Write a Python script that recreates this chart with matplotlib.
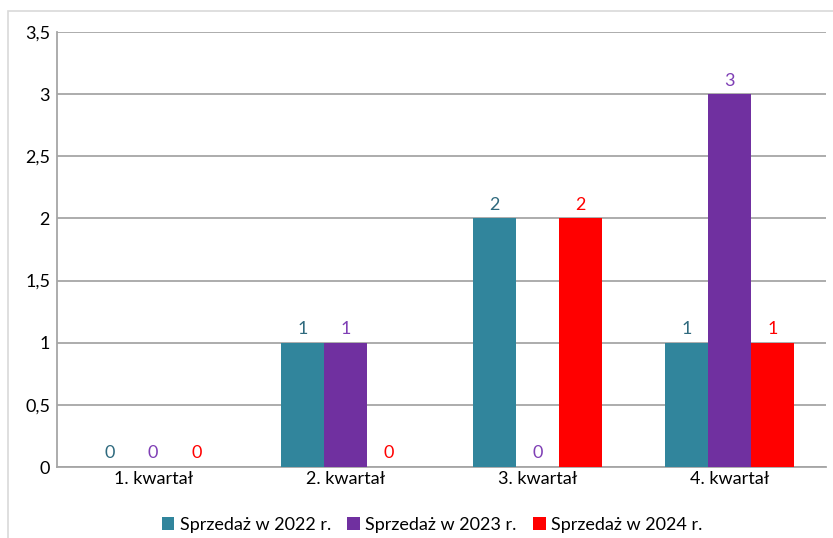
import matplotlib
matplotlib.use("Agg")
import matplotlib.pyplot as plt
import numpy as np
from matplotlib.patches import Rectangle

categories = ["1. kwartał", "2. kwartał", "3. kwartał", "4. kwartał"]
series_names = ["Sprzedaż w 2022 r.", "Sprzedaż w 2023 r.", "Sprzedaż w 2024 r."]
sales_2022 = [0, 1, 2, 1]
sales_2023 = [0, 1, 0, 3]
sales_2024 = [0, 0, 2, 1]
yticks = [0, 0.5, 1, 1.5, 2, 2.5, 3, 3.5]
ytick_labels = ["0", "0,5", "1", "1,5", "2", "2,5", "3", "3,5"]

bar_colors = ["#31859C", "#7030A0", "#FF0000"]
label_colors = ["#2F6A7E", "#7F3FB5", "#FF0000"]

plt.rcParams["font.family"] = ["Lato", "DejaVu Sans"]

fig = plt.figure(figsize=(8.33, 5.38), dpi=100)
# outer chart frame
fig.patches.append(Rectangle((8 / 833, -0.05), 1.05, (538 - 11) / 538 + 0.05,
                             transform=fig.transFigure, fill=False,
                             edgecolor="#D9D9D9", linewidth=1.2))

ax = fig.add_axes([57 / 833, (538 - 467) / 538, (826 - 57) / 833, (467 - 32) / 538])

x = np.arange(len(categories))
w = 0.224
for i, vals in enumerate([sales_2022, sales_2023, sales_2024]):
    pos = x + (i - 1) * w
    ax.bar(pos, vals, width=w, color=bar_colors[i], label=series_names[i], zorder=3)
    for px, v in zip(pos, vals):
        ax.annotate(str(v), (px, v), xytext=(0, 4), textcoords="offset points",
                    ha="center", va="bottom", color=label_colors[i], fontsize=13)

ax.set_xlim(-0.5, len(categories) - 0.5)
ax.set_ylim(0, 3.5)
ax.set_yticks(yticks)
ax.set_yticklabels(ytick_labels, fontsize=13)
ax.set_xticks(x)
ax.set_xticklabels(categories, fontsize=13)
ax.tick_params(axis="both", length=0, pad=5)
ax.tick_params(axis="x", pad=3)
ax.grid(axis="y", color="#A6A6A6", linewidth=1.3, zorder=0)
for s in ["top", "right"]:
    ax.spines[s].set_visible(False)
ax.spines["left"].set_color("#A6A6A6")
ax.spines["bottom"].set_color("#A6A6A6")
ax.spines["left"].set_linewidth(1.3)
ax.spines["bottom"].set_linewidth(1.3)

fig.legend(loc="center", bbox_to_anchor=(432 / 833, 1 - 525 / 538), ncol=3,
           frameon=False, fontsize=13, handlelength=0.7, handleheight=0.7,
           handletextpad=0.3, columnspacing=0.9)

fig.savefig("out.png", dpi=100)
